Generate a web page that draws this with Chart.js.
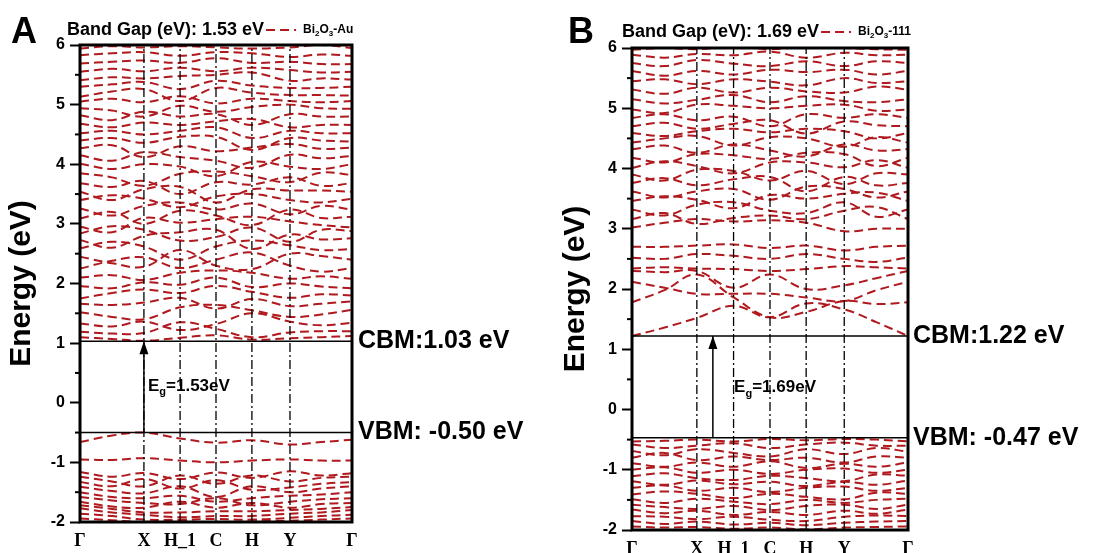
<!DOCTYPE html>
<html><head><meta charset="utf-8">
<script src="https://cdn.jsdelivr.net/npm/chart.js@4.4.1/dist/chart.umd.min.js"></script>
<style>
html,body{margin:0;padding:0;background:#fff;width:1097px;height:553px;overflow:hidden}
#wa{position:absolute;left:0;top:0;width:550px;height:553px}
#wb{position:absolute;left:550px;top:0;width:547px;height:553px}
</style></head><body>
<div id="wa"><canvas id="ca"></canvas></div>
<div id="wb"><canvas id="cb"></canvas></div>
<script>
// ---- k-path ----
const kLabelsA = ['Γ','X','H_1','C','H','Y','Γ'];
const kLabelsB = ['Γ','X','H_1','C','H','Y','Γ'];
const kPosA = [0, 0.235, 0.368, 0.5, 0.632, 0.772, 1.0];
const kPosB = [0, 0.235, 0.368, 0.5, 0.631, 0.769, 1.0];
// band sample positions: k-points plus midpoints of Γ–X and Y–Γ
const sampleA = [0, 0.118, 0.235, 0.368, 0.5, 0.632, 0.772, 0.886, 1.0];
const sampleB = [0, 0.118, 0.235, 0.368, 0.5, 0.631, 0.769, 0.885, 1.0];
const yTicks = [-2, -1, 0, 1, 2, 3, 4, 5, 6];

// ---- panel A: Bi2O3-Au ----
const cbmA = 1.03, vbmA = -0.50, gapA = 1.53, arrowXA = 0.235;
const valenceA = [
  [-0.66,-0.55,-0.50,-0.60,-0.67,-0.63,-0.70,-0.66,-0.62],
  [-0.95,-0.96,-0.93,-0.97,-1.00,-0.97,-0.95,-0.97,-0.97],
  [-1.16,-1.24,-1.18,-1.28,-1.17,-1.26,-1.15,-1.22,-1.18],
  [-1.24,-1.32,-1.40,-1.22,-1.36,-1.22,-1.32,-1.26,-1.24],
  [-1.33,-1.40,-1.28,-1.44,-1.30,-1.46,-1.42,-1.36,-1.33],
  [-1.41,-1.48,-1.52,-1.40,-1.58,-1.40,-1.50,-1.44,-1.40],
  [-1.50,-1.58,-1.60,-1.56,-1.66,-1.60,-1.56,-1.54,-1.50],
  [-1.58,-1.64,-1.68,-1.70,-1.60,-1.72,-1.66,-1.62,-1.60],
  [-1.66,-1.74,-1.76,-1.66,-1.76,-1.68,-1.76,-1.70,-1.68],
  [-1.72,-1.78,-1.84,-1.84,-1.82,-1.82,-1.80,-1.78,-1.75],
  [-1.77,-1.84,-1.88,-1.92,-1.90,-1.90,-1.86,-1.84,-1.80],
  [-1.86,-1.90,-1.96,-1.96,-1.95,-1.96,-1.93,-1.90,-1.88],
  [-1.94,-1.97,-2.00,-1.98,-2.02,-1.99,-1.98,-1.96,-1.94]
];
const conductionA = [
  [1.10,1.07,1.04,1.09,1.13,1.06,1.08,1.10,1.12],
  [1.19,1.16,1.17,1.35,1.24,1.10,1.18,1.20,1.20],
  [1.33,1.28,1.36,1.22,1.32,1.50,1.36,1.30,1.34],
  [1.52,1.44,1.40,1.60,1.64,1.55,1.44,1.48,1.56],
  [1.66,1.64,1.68,1.76,1.58,1.74,1.62,1.66,1.70],
  [1.75,1.84,1.90,1.84,1.96,1.86,1.76,1.82,1.80],
  [1.96,1.92,2.02,1.98,2.10,1.94,2.00,1.95,1.92],
  [2.10,2.14,2.06,2.18,2.22,2.18,2.08,2.12,2.08],
  [2.25,2.38,2.44,2.26,2.40,2.52,2.30,2.20,2.26],
  [2.45,2.34,2.28,2.56,2.30,2.24,2.50,2.46,2.40],
  [2.59,2.70,2.62,2.40,2.62,2.72,2.64,2.56,2.58],
  [2.73,2.60,2.80,2.86,2.90,2.58,2.82,2.74,2.76],
  [2.84,2.96,2.90,2.72,2.78,2.94,2.70,2.90,2.88],
  [2.95,2.86,3.10,3.02,3.08,3.12,3.04,2.98,2.94],
  [3.09,3.20,3.00,3.22,3.14,2.98,3.24,3.10,3.12],
  [3.26,3.14,3.30,3.36,3.24,3.34,3.16,3.30,3.24],
  [3.40,3.48,3.42,3.28,3.46,3.50,3.40,3.36,3.42],
  [3.54,3.40,3.58,3.62,3.36,3.58,3.56,3.56,3.54],
  [3.68,3.62,3.72,3.50,3.70,3.66,3.78,3.64,3.68],
  [3.85,3.78,3.64,3.84,3.88,3.80,3.70,3.86,3.82],
  [4.01,3.92,4.00,3.96,3.80,4.04,3.96,3.92,4.00],
  [4.15,4.06,4.20,4.12,4.06,3.94,4.16,4.10,4.14],
  [4.27,4.32,4.12,4.30,4.22,4.28,4.34,4.26,4.28],
  [4.40,4.44,4.36,4.46,4.46,4.24,4.44,4.40,4.38],
  [4.52,4.56,4.50,4.56,4.62,4.44,4.56,4.52,4.52],
  [4.68,4.62,4.70,4.66,4.72,4.76,4.62,4.66,4.66],
  [4.82,4.74,4.88,4.80,4.84,4.66,4.84,4.80,4.80],
  [4.94,4.90,4.80,4.98,4.88,4.96,5.00,4.94,4.93],
  [5.05,5.10,5.04,5.14,5.02,5.10,5.06,5.04,5.06],
  [5.13,5.22,5.26,5.06,5.28,5.20,5.16,5.16,5.15],
  [5.30,5.34,5.38,5.26,5.40,5.32,5.28,5.28,5.30],
  [5.41,5.46,5.44,5.48,5.50,5.54,5.40,5.44,5.42],
  [5.55,5.60,5.56,5.62,5.56,5.62,5.58,5.54,5.55],
  [5.69,5.72,5.74,5.70,5.78,5.70,5.72,5.68,5.68],
  [5.83,5.86,5.88,5.82,5.88,5.86,5.80,5.84,5.82],
  [5.94,5.98,5.96,5.98,5.96,5.94,5.96,6.00,5.95]
];

// ---- panel B: Bi2O3-111 ----
const cbmB = 1.22, vbmB = -0.47, gapB = 1.69, arrowXB = 0.293;
const valenceB = [
  [-0.53,-0.52,-0.50,-0.53,-0.49,-0.51,-0.49,-0.50,-0.53],
  [-0.58,-0.64,-0.60,-0.56,-0.64,-0.58,-0.55,-0.60,-0.60],
  [-0.69,-0.76,-0.66,-0.72,-0.78,-0.66,-0.74,-0.64,-0.70],
  [-0.80,-0.72,-0.84,-0.78,-0.84,-0.80,-0.88,-0.78,-0.80],
  [-0.89,-0.95,-0.88,-0.95,-0.86,-0.97,-0.90,-0.95,-0.88],
  [-1.00,-0.96,-1.05,-1.00,-1.07,-1.00,-0.98,-1.05,-1.00],
  [-1.11,-1.06,-1.14,-1.17,-1.10,-1.14,-1.19,-1.08,-1.10],
  [-1.19,-1.25,-1.18,-1.24,-1.20,-1.27,-1.20,-1.25,-1.18],
  [-1.30,-1.26,-1.35,-1.30,-1.37,-1.30,-1.28,-1.35,-1.30],
  [-1.41,-1.36,-1.40,-1.47,-1.40,-1.45,-1.49,-1.38,-1.40],
  [-1.49,-1.55,-1.48,-1.53,-1.57,-1.50,-1.55,-1.50,-1.48],
  [-1.58,-1.62,-1.65,-1.60,-1.67,-1.60,-1.58,-1.65,-1.58],
  [-1.66,-1.72,-1.68,-1.75,-1.70,-1.75,-1.68,-1.73,-1.66],
  [-1.77,-1.78,-1.82,-1.78,-1.83,-1.85,-1.78,-1.76,-1.77],
  [-1.85,-1.90,-1.86,-1.91,-1.88,-1.92,-1.88,-1.86,-1.85],
  [-1.94,-1.96,-1.95,-1.98,-1.96,-1.99,-1.96,-1.95,-1.94]
];
const conductionB = [
  [1.22,1.36,1.52,1.72,1.53,1.76,1.66,1.45,1.22],
  [1.78,1.98,2.24,1.86,1.53,1.62,1.80,1.75,1.78],
  [2.12,2.02,1.92,1.92,1.92,1.86,1.80,1.98,2.12],
  [2.30,2.28,2.30,2.02,2.24,2.00,2.06,2.18,2.30],
  [2.34,2.36,2.34,2.33,2.30,2.33,2.38,2.36,2.34],
  [2.52,2.50,2.58,2.55,2.50,2.58,2.50,2.45,2.52],
  [2.70,2.70,2.72,2.74,2.68,2.72,2.64,2.70,2.72],
  [3.02,3.10,3.16,3.12,3.14,3.10,2.96,3.00,3.00],
  [3.16,3.26,3.08,3.18,3.22,3.16,3.30,3.36,3.16],
  [3.32,3.22,3.40,3.44,3.30,3.26,3.44,3.20,3.32],
  [3.46,3.54,3.48,3.34,3.56,3.50,3.58,3.60,3.46],
  [3.62,3.52,3.62,3.66,3.48,3.70,3.66,3.52,3.62],
  [3.76,3.84,3.72,3.82,3.86,3.62,3.86,3.72,3.76],
  [3.90,3.80,3.98,3.96,3.80,3.96,3.74,3.92,3.90],
  [4.01,4.12,4.04,3.92,4.10,4.10,4.02,4.14,4.01],
  [4.18,4.10,4.24,4.22,4.16,4.26,4.24,4.04,4.18],
  [4.32,4.38,4.26,4.40,4.30,4.20,4.40,4.30,4.32],
  [4.43,4.50,4.54,4.38,4.52,4.50,4.36,4.52,4.43],
  [4.59,4.54,4.62,4.66,4.60,4.66,4.62,4.50,4.59],
  [4.70,4.76,4.66,4.74,4.80,4.58,4.78,4.72,4.70],
  [4.84,4.90,4.80,4.86,4.70,4.90,4.84,4.90,4.84],
  [4.98,4.92,5.06,5.04,5.00,5.04,5.06,4.96,4.98],
  [5.15,5.08,5.14,5.22,5.10,5.20,5.12,5.10,5.15],
  [5.31,5.24,5.34,5.26,5.34,5.28,5.26,5.36,5.31],
  [5.45,5.48,5.40,5.48,5.44,5.38,5.50,5.42,5.45],
  [5.62,5.54,5.62,5.56,5.64,5.60,5.64,5.56,5.62],
  [5.75,5.70,5.80,5.74,5.70,5.78,5.70,5.78,5.75],
  [5.89,5.84,5.90,5.88,5.94,5.84,5.92,5.88,5.89],
  [5.97,6.00,5.98,6.02,5.98,6.02,6.00,5.98,5.97]
];

const bandColor = '#B0191E';
const SANS = '"Liberation Sans", Arial, sans-serif';
const SERIF = '"Liberation Serif", "Times New Roman", serif';

function makePanel(canvasId, p) {
  const ds = [];
  // reference lines (drawn on top)
  ds.push({data:[{x:0,y:p.cbm},{x:1,y:p.cbm}], borderColor:'#000', borderWidth:1.5, order:0});
  ds.push({data:[{x:0,y:p.vbm},{x:1,y:p.vbm}], borderColor:'#000', borderWidth:1.5, order:0});
  ds.push({data:[{x:p.arrowX,y:p.vbm},{x:p.arrowX,y:p.cbm}], borderColor:'#000', borderWidth:1.5, order:0});
  p.kPos.slice(1, -1).forEach(k => {
    ds.push({data:[{x:k,y:-2},{x:k,y:6}], borderColor:'#000', borderWidth:1.3, borderDash:[9,3,2,3], order:1});
  });
  [...p.conduction, ...p.valence].forEach(b => {
    ds.push({data: p.sample.map((x,i)=>({x, y:b[i]})), borderColor:bandColor, borderWidth:2,
             borderDash:[9,5], tension:0.4, order:2});
  });

  const decor = {
    id:'decor',
    afterDraw(chart) {
      const ctx = chart.ctx, a = chart.chartArea;
      const xs = chart.scales.x, ys = chart.scales.y;
      ctx.save();
      // minor ticks
      ctx.strokeStyle = '#000'; ctx.lineWidth = 2;
      for (let i = 0; i < yTicks.length - 1; i++) {
        const v = (yTicks[i] + yTicks[i+1]) / 2;
        const py = ys.getPixelForValue(v);
        ctx.beginPath(); ctx.moveTo(a.left - 5, py); ctx.lineTo(a.left, py); ctx.stroke();
      }
      // frame
      ctx.lineWidth = 3;
      ctx.strokeRect(a.left, a.top, a.right - a.left, a.bottom - a.top);
      // arrow head
      const ax = xs.getPixelForValue(p.arrowX), ay = ys.getPixelForValue(p.cbm);
      ctx.fillStyle = '#000';
      ctx.beginPath(); ctx.moveTo(ax, ay); ctx.lineTo(ax - 4.5, ay + 13); ctx.lineTo(ax + 4.5, ay + 13); ctx.closePath(); ctx.fill();
      // panel letter
      ctx.textBaseline = 'alphabetic'; ctx.textAlign = 'left';
      ctx.font = 'bold 36px ' + SANS;
      ctx.fillText(p.letter, p.letterX, 43);
      // title
      ctx.textBaseline = 'middle';
      ctx.font = 'bold 18px ' + SANS;
      ctx.fillText(p.title, p.titleX, p.titleY);
      const tw = ctx.measureText(p.title).width;
      // legend sample
      const lx = p.titleX + tw + 2;
      ctx.strokeStyle = bandColor; ctx.lineWidth = 2; ctx.setLineDash([9,5]);
      ctx.beginPath(); ctx.moveTo(lx, p.titleY); ctx.lineTo(lx + 30, p.titleY); ctx.stroke();
      ctx.setLineDash([]);
      let tx = lx + 37;
      p.legend.forEach(seg => {
        ctx.font = (seg.sub ? 'bold 8px ' : 'bold 12px ') + SANS;
        ctx.fillText(seg.t, tx, p.titleY + (seg.sub ? 4 : 0));
        tx += ctx.measureText(seg.t).width;
      });
      // CBM / VBM labels
      ctx.font = 'bold 25px ' + SANS;
      ctx.fillText(p.cbmLabel, a.right + p.labelGap, ys.getPixelForValue(p.cbm));
      ctx.fillText(p.vbmLabel, a.right + p.labelGap, ys.getPixelForValue(p.vbm));
      // Eg annotation
      let ex = xs.getPixelForValue(p.egX), ey = ys.getPixelForValue(p.egY);
      ctx.font = 'bold 17px ' + SANS;
      ctx.fillText('E', ex, ey); ex += ctx.measureText('E').width;
      ctx.font = 'bold 11px ' + SANS;
      ctx.fillText('g', ex, ey + 6); ex += ctx.measureText('g').width;
      ctx.font = 'bold 17px ' + SANS;
      ctx.fillText('=' + p.gap.toFixed(2) + 'eV', ex, ey);
      ctx.restore();
    }
  };

  return new Chart(document.getElementById(canvasId), {
    type:'line',
    data:{datasets:ds},
    options:{
      responsive:true, maintainAspectRatio:false, animation:false, events:[],
      parsing:false, normalized:true,
      elements:{point:{radius:0}, line:{fill:false}},
      layout:{padding:{left:0, top:p.top, right:p.padRight, bottom:0}},
      plugins:{legend:{display:false}, tooltip:{enabled:false}, title:{display:false}},
      scales:{
        x:{type:'linear', min:0, max:1,
           afterBuildTicks: s => { s.ticks = p.kPos.map(v => ({value:v})); },
           afterFit: s => { s.height = p.xHeight; },
           grid:{display:false, drawTicks:false}, border:{display:false},
           ticks:{autoSkip:false, maxRotation:0, padding:p.xPad, color:'#000',
                  font:{family:SERIF, size:18, weight:'bold'},
                  callback:(v,i) => p.kLabels[i]}},
        y:{type:'linear', min:-2, max:6,
           afterBuildTicks: s => { s.ticks = yTicks.map(v => ({value:v})); },
           afterFit: s => { s.width = p.yWidth; },
           grid:{drawOnChartArea:false, tickLength:10, tickWidth:2, tickColor:'#000'},
           border:{display:false},
           ticks:{color:'#000', padding:5, font:{family:SANS, size:16, weight:'bold'}},
           title:{display:true, text:'Energy (eV)', color:'#000', padding:{top:p.ytPad, bottom:0},
                  font:{family:SANS, size:30, weight:'bold'}}}
      }
    },
    plugins:[decor]
  });
}

makePanel('ca', {
  kPos:kPosA, kLabels:kLabelsA, sample:sampleA, valence:valenceA, conduction:conductionA,
  cbm:cbmA, vbm:vbmA, gap:gapA, arrowX:arrowXA, egX:0.25, egY:0.28,
  top:45, padRight:198, yWidth:80, xHeight:31, xPad:9, ytPad:4,
  letter:'A', letterX:11, title:'Band Gap (eV): 1.53 eV', titleX:67, titleY:30,
  legend:[{t:'Bi'},{t:'2',sub:true},{t:'O'},{t:'3',sub:true},{t:'-Au'}],
  cbmLabel:'CBM:1.03 eV', vbmLabel:'VBM: -0.50 eV', labelGap:6
});
makePanel('cb', {
  kPos:kPosB, kLabels:kLabelsB, sample:sampleB, valence:valenceB, conduction:conductionB,
  cbm:cbmB, vbm:vbmB, gap:gapB, arrowX:arrowXB, egX:0.37, egY:0.36,
  top:48, padRight:189, yWidth:82, xHeight:23, xPad:9, ytPad:8,
  letter:'B', letterX:18, title:'Band Gap (eV): 1.69 eV', titleX:72, titleY:32,
  legend:[{t:'Bi'},{t:'2',sub:true},{t:'O'},{t:'3',sub:true},{t:'-111'}],
  cbmLabel:'CBM:1.22 eV', vbmLabel:'VBM: -0.47 eV', labelGap:5
});
</script>
</body></html>
